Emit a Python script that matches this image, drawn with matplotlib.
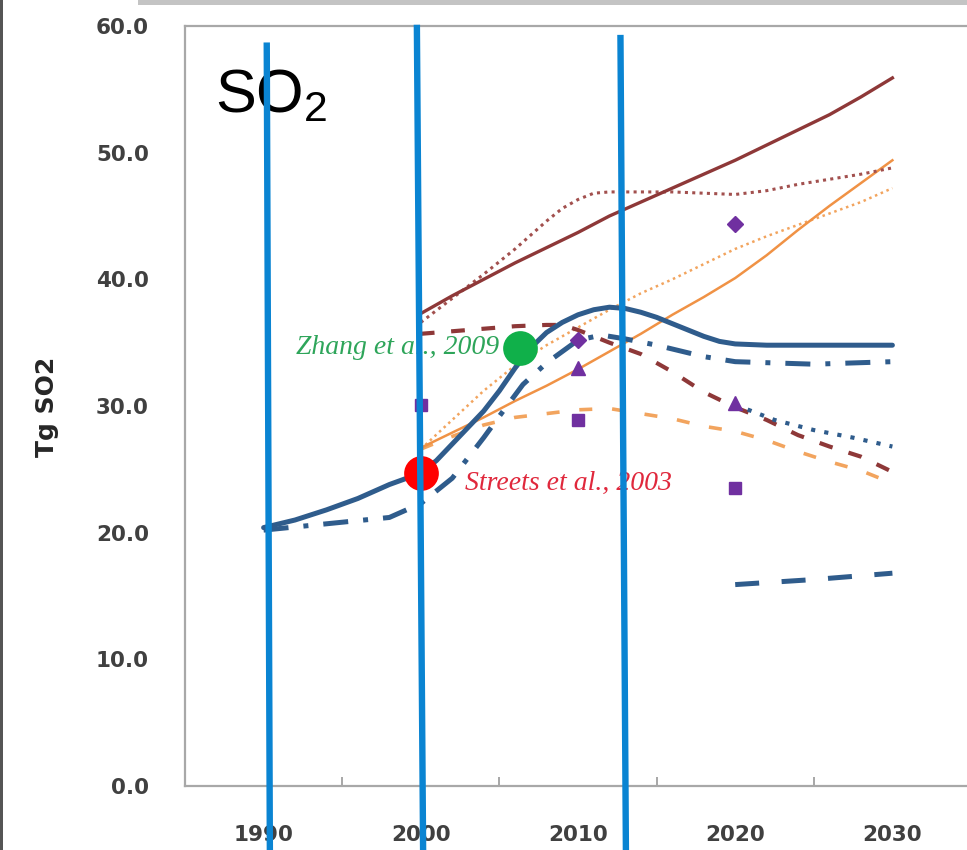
import matplotlib
matplotlib.use("Agg")
import matplotlib.pyplot as plt
from matplotlib.patches import Rectangle

plt.rcParams['mathtext.fontset'] = 'custom'
plt.rcParams['mathtext.rm'] = 'Liberation Sans'

# ---- emission pathways (Tg SO2) ----
blue_solid_years = [1990, 1992, 1994, 1996, 1998, 2000, 2001, 2002, 2003, 2004, 2005, 2006, 2007,
                    2008, 2009, 2010, 2011, 2012, 2013, 2014, 2015, 2016, 2017, 2018, 2019, 2020,
                    2022, 2026, 2030]
blue_solid_vals = [20.4, 21.0, 21.8, 22.7, 23.8, 24.7, 25.7, 27.0, 28.3, 29.6, 31.2, 33.0, 34.6,
                   35.8, 36.6, 37.2, 37.6, 37.8, 37.7, 37.4, 37.0, 36.5, 36.0, 35.5, 35.1, 34.9,
                   34.8, 34.8, 34.8]

blue_dashdot_years = [1990, 1994, 1998, 2000, 2002, 2004, 2005, 2006.5, 2008, 2010, 2011.5, 2013,
                      2015, 2018, 2020, 2025, 2030]
blue_dashdot_vals = [20.2, 20.7, 21.2, 22.3, 24.3, 27.5, 29.2, 31.7, 33.4, 35.2, 35.6, 35.3,
                     34.8, 33.9, 33.5, 33.3, 33.5]

blue_dotted_years = [2020, 2022.5, 2025, 2027.5, 2030]
blue_dotted_vals = [30.1, 28.9, 28.1, 27.5, 26.8]

blue_dashed_years = [2020, 2025, 2030]
blue_dashed_vals = [15.9, 16.3, 16.8]

maroon_solid_years = [2000, 2002, 2004, 2006, 2008, 2010, 2012, 2014, 2016, 2018, 2020, 2022,
                      2024, 2026, 2028, 2030]
maroon_solid_vals = [37.3, 38.7, 40.0, 41.3, 42.5, 43.7, 45.0, 46.1, 47.2, 48.3, 49.4, 50.6,
                     51.8, 53.0, 54.4, 55.9]

maroon_dotted_years = [2000, 2002, 2004, 2006, 2008, 2009, 2010, 2011, 2012, 2014, 2016, 2018,
                       2020, 2022, 2024, 2026, 2028, 2030]
maroon_dotted_vals = [36.6, 38.5, 40.4, 42.4, 44.6, 45.6, 46.3, 46.8, 46.9, 46.9, 46.9, 46.8,
                      46.7, 47.0, 47.5, 47.9, 48.3, 48.8]

maroon_dashed_years = [2000, 2002, 2004, 2006, 2008, 2009, 2010, 2011, 2012, 2014, 2016, 2018,
                       2020, 2022, 2024, 2026, 2028, 2030]
maroon_dashed_vals = [35.7, 35.9, 36.1, 36.3, 36.4, 36.4, 36.0, 35.5, 35.0, 34.1, 32.7, 31.1,
                      29.9, 28.9, 27.7, 26.8, 26.0, 24.8]

orange_solid_years = [2000, 2002, 2004, 2006, 2008, 2010, 2012, 2014, 2016, 2018, 2020, 2022,
                      2024, 2026, 2028, 2030]
orange_solid_vals = [26.7, 27.9, 29.1, 30.4, 31.6, 32.9, 34.3, 35.7, 37.2, 38.6, 40.1, 41.9,
                     43.9, 45.8, 47.6, 49.4]

orange_dotted_years = [2000, 2002, 2004, 2006, 2008, 2010, 2012, 2014, 2016, 2018, 2020, 2022,
                       2024, 2026, 2028, 2030]
orange_dotted_vals = [26.6, 28.9, 31.2, 33.2, 34.8, 36.2, 37.6, 38.9, 40.0, 41.2, 42.4, 43.4,
                      44.3, 45.2, 46.1, 47.2]

orange_dashed_years = [2000, 2002, 2004, 2006, 2008, 2010, 2012, 2014, 2016, 2018, 2020, 2022,
                       2024, 2026, 2028, 2030]
orange_dashed_vals = [26.6, 27.6, 28.5, 29.1, 29.4, 29.7, 29.8, 29.4, 29.0, 28.4, 28.0, 27.3,
                      26.4, 25.6, 24.9, 23.9]

# point estimates
square_years = [2000, 2010, 2020]
square_vals = [30.1, 28.9, 23.5]
diamond_years = [2010, 2020]
diamond_vals = [35.2, 44.4]
triangle_years = [2010, 2020]
triangle_vals = [33.0, 30.2]

# inventory studies
zhang_year, zhang_val = 2006.3, 34.6
streets_year, streets_val = 2000.0, 24.7

# axis ticks
tick_years = [1990, 2000, 2010, 2020, 2030]
tick_values = [0, 10, 20, 30, 40, 50, 60]

# vertical highlight bars (year at top, year at bottom, value at top)
bar_top_years = [1990.2, 1999.75, 2012.7]
bar_bottom_years = [1990.4, 2000.15, 2013.05]
bar_top_vals = [58.7, 60.1, 59.3]

# ---- colours ----
BLUE = "#2F5C8C"
MAROON = "#8E3838"
MAROON_LIGHT = "#A2504E"
ORANGE = "#F09245"
ORANGE_LIGHT = "#F2A45E"
PURPLE = "#7030A0"
HIGHLIGHT = "#0A84D2"

fig = plt.figure(figsize=(9.67, 8.5), dpi=100)
ax = fig.add_axes([185 / 967, 64 / 850, 786 / 967, 760 / 850])

ax.plot(orange_dashed_years, orange_dashed_vals, color=ORANGE_LIGHT, lw=2.6,
        dashes=(3.6, 5.5), zorder=2)
ax.plot(orange_dotted_years, orange_dotted_vals, color=ORANGE_LIGHT, lw=1.8,
        dashes=(1, 1.5), zorder=2)
ax.plot(orange_solid_years, orange_solid_vals, color=ORANGE, lw=1.8, zorder=2)
ax.plot(maroon_dotted_years, maroon_dotted_vals, color=MAROON_LIGHT, lw=2.2,
        dashes=(1, 1.4), zorder=3)
ax.plot(maroon_solid_years, maroon_solid_vals, color=MAROON, lw=2.4, zorder=3)
ax.plot(maroon_dashed_years, maroon_dashed_vals, color=MAROON, lw=3,
        dashes=(3.3, 4), zorder=3)
ax.plot(blue_dotted_years, blue_dotted_vals, color=BLUE, lw=3, dashes=(1, 2.2), zorder=4)
ax.plot(blue_dashed_years, blue_dashed_vals, color=BLUE, lw=3.6, dashes=(4.8, 4.5), zorder=4)
ax.plot(blue_dashdot_years, blue_dashdot_vals, color=BLUE, lw=3.6,
        dashes=(5, 3, 1, 3), zorder=4)
ax.plot(blue_solid_years, blue_solid_vals, color=BLUE, lw=3.6, zorder=5,
        solid_capstyle='round')

ax.plot(square_years, square_vals, ls='none', marker='s', ms=9, color=PURPLE, zorder=6)
ax.plot(diamond_years, diamond_vals, ls='none', marker='D', ms=8, color=PURPLE, zorder=6)
ax.plot(triangle_years, triangle_vals, ls='none', marker='^', ms=10, color=PURPLE, zorder=6)

ax.plot([zhang_year], [zhang_val], ls='none', marker='o', ms=25, color="#10B04A",
        mec='none', zorder=7)
ax.plot([streets_year], [streets_val], ls='none', marker='o', ms=25, color="#FF0000",
        mec='none', zorder=7)

ax.text(2005.0, 34.6, "Zhang et al., 2009", color="#2EA55A", fontsize=20,
        family="Liberation Serif", style="italic", ha="right", va="center", zorder=8)
ax.text(2002.8, 23.9, "Streets et al., 2003", color="#E0283C", fontsize=20,
        family="Liberation Serif", style="italic", ha="left", va="center", zorder=8)

ax.text(0.038, 0.887, r"SO$_\mathregular{2}$", transform=ax.transAxes, fontsize=44,
        family="Liberation Sans", color="black", ha="left", va="baseline")

# vertical highlight bars drawn over the chart
for yt, yb, vt in zip(bar_top_years, bar_bottom_years, bar_top_vals):
    ax.plot([yt, yb], [vt, -5.6], color=HIGHLIGHT, lw=4.6, clip_on=False,
            solid_capstyle='butt', zorder=20)

ax.set_xlim(1985, 2035)
ax.set_ylim(0, 60)

ax.set_xticks(tick_years)
ax.set_xticklabels([str(y) for y in tick_years])
ax.set_xticks([1995, 2005, 2015, 2025], minor=True)
ax.set_yticks(tick_values)
ax.set_yticklabels([f"{v:.1f}" for v in tick_values])

ax.tick_params(axis='x', which='major', length=0, pad=28, labelsize=15.5,
               labelcolor="#404040")
ax.tick_params(axis='x', which='minor', direction='in', length=6.5, width=1.3,
               color="#A0A0A0")
ax.tick_params(axis='y', length=0, pad=26, labelsize=15.5, labelcolor="#404040")
for lab in ax.get_xticklabels() + ax.get_yticklabels():
    lab.set_fontweight('bold')

for side in ['left', 'top', 'bottom', 'right']:
    ax.spines[side].set_color("#A8A8A8")
    ax.spines[side].set_linewidth(1.6)

fig.text(47 / 967, 1 - 407 / 850, "Tg SO2", rotation=90, fontsize=18, fontweight='bold',
         color="#262626", ha='center', va='center')

# slide frame pieces
fig.add_artist(Rectangle((138 / 967, 1 - 4.5 / 850), 1, 4.5 / 850, transform=fig.transFigure,
                         facecolor="#C4C4C4", edgecolor='none'))
fig.add_artist(Rectangle((0, 0), 3 / 967, 1, transform=fig.transFigure,
                         facecolor="#555555", edgecolor='none'))

fig.savefig("out.png", dpi=100)
